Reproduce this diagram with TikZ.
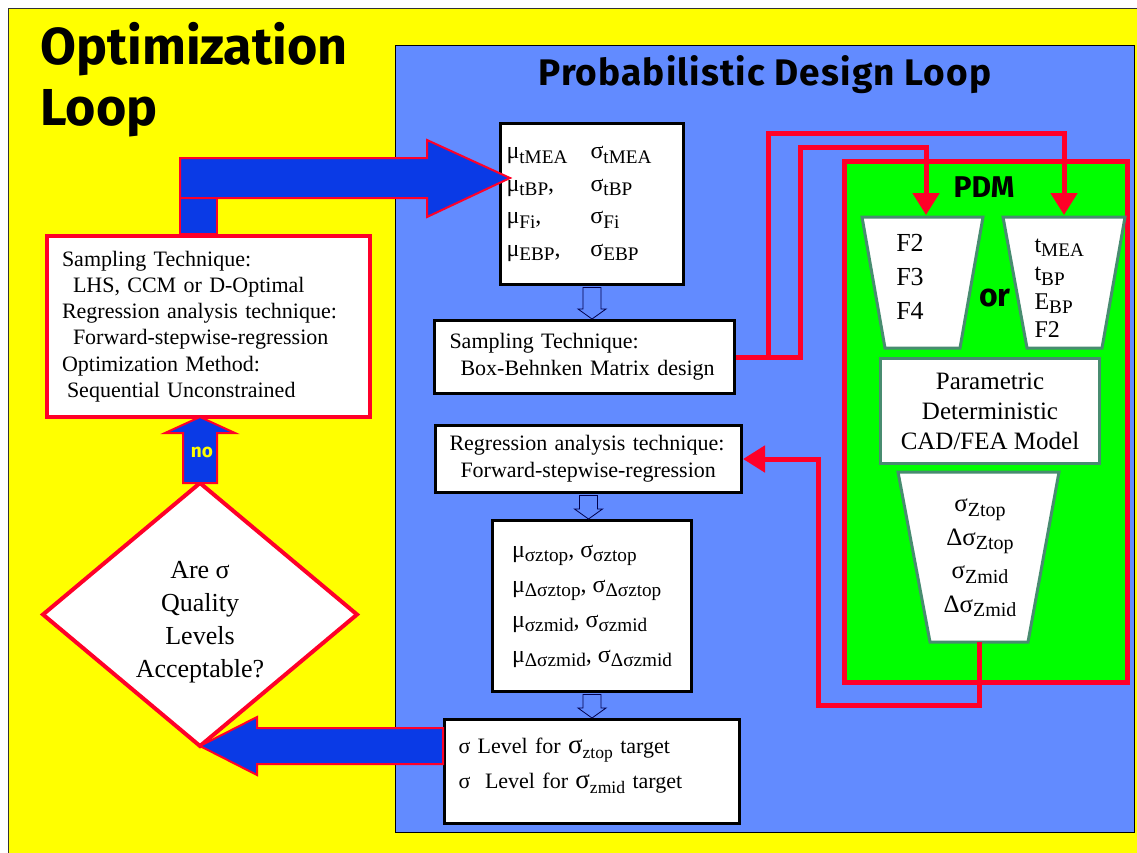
\documentclass[tikz,border=0pt]{standalone}
\usepackage{fontspec}
\usepackage{graphicx}
\setmainfont{Liberation Serif}
\newfontfamily\comic{Fira Sans}
\usetikzlibrary{shapes.geometric,arrows.meta,calc,positioning}

\definecolor{sunny}{RGB}{255,255,0}
\definecolor{sky}{RGB}{98,139,255}
\definecolor{royal}{RGB}{10,58,230}
\definecolor{alarm}{RGB}{255,0,40}
\definecolor{pdmgreen}{RGB}{0,255,0}
\definecolor{sage}{RGB}{72,140,112}

\newcommand{\dn}[1]{\raisebox{-0.42ex}{\scalebox{0.8}{#1}}}

\tikzset{
  box/.style={draw=black, line width=3pt, fill=white, anchor=north west, inner ysep=0pt, align=left, font=\fontsize{22}{27}\selectfont},
  redbox/.style={box, draw=alarm, line width=4pt},
  sagebox/.style={box, draw=sage, align=center},
  trap/.style={draw=sage, line width=3pt, fill=white, line join=miter},
  fat/.style={draw=alarm, line width=2pt, fill=royal, line join=miter},
  feed/.style={draw=alarm, line width=5pt, line join=miter, -{Triangle[width=26pt,length=22pt]}},
  hollow/.style={draw=black!70!blue, line width=0.8pt, fill=sky},
}

\begin{document}
\begin{tikzpicture}[x=1pt, y=-1pt]
\useasboundingbox (0,0) rectangle (1137,852);
\filldraw[fill=sunny, draw=black!80, line width=0.8pt] (8,8) rectangle (1145,860);
\filldraw[fill=sky, draw=black, line width=1pt] (395,45) rectangle (1134,832);

% titles
\node[anchor=north west, align=left, font=\comic\bfseries\fontsize{52}{61}\selectfont] (optitle) at (37,19) {Optimization\\Loop};
\node[font=\comic\bfseries\fontsize{37}{42}\selectfont\addfontfeature{LetterSpace=3}] (pdltitle) at (765,75) {Probabilistic Design Loop};

% PDM block
\node[draw=alarm, line width=5pt, fill=pdmgreen, anchor=north west, minimum width=283pt, minimum height=521pt] (pdm) at (842,159) {};
\node[font=\comic\bfseries\fontsize{30}{34}\selectfont] (pdmtitle) at (984,187) {PDM};

\draw[trap] (862,217) -- (983,217) -- (960,348) -- (885,348) -- cycle;
\draw[trap] (1003,217) -- (1125,217) -- (1102,348) -- (1027,348) -- cycle;
\draw[trap] (898,472) -- (1059,472) -- (1028,642) -- (930,642) -- cycle;
\coordinate (fin) at (926,215);
\coordinate (gin) at (1064,215);
\coordinate (zout) at (979,642);

\node[align=left, font=\fontsize{26}{34}\selectfont] (fset) at (910,277) {F2\\F3\\F4};
\node[anchor=west, align=left, font=\fontsize{24}{28.5}\selectfont] (gset) at (1031,288) {t\dn{MEA}\\t\dn{BP}\\E\dn{BP}\\F2};
\node[font=\comic\bfseries\fontsize{32}{36}\selectfont] (orword) at (995,298) {or};
\node[align=center, font=\fontsize{25}{33.5}\selectfont] (zset) at (980,558) {σ\dn{Ztop}\\Δσ\dn{Ztop}\\σ\dn{Zmid}\\Δσ\dn{Zmid}};
\node[sagebox, minimum width=219pt, minimum height=105pt, font=\fontsize{25}{30}\selectfont] (cad) at (879,357) {Parametric\\Deterministic\\CAD/FEA Model};

% probabilistic loop boxes
\node[box, minimum width=183pt, minimum height=161pt, text width=171pt, inner xsep=6pt, font=\fontsize{24}{32.5}\selectfont] (mustats) at (499,122)
  {\makebox[84pt][l]{μ\dn{tMEA}}σ\dn{tMEA}\\
   \makebox[84pt][l]{μ\dn{tBP},}σ\dn{tBP}\\
   \makebox[84pt][l]{μ\dn{Fi},}σ\dn{Fi}\\
   \makebox[84pt][l]{μ\dn{EBP},}σ\dn{EBP}};
\node[box, minimum width=300pt, minimum height=73pt, text width=270pt, inner xsep=15pt] (bbm) at (433,319)
  {Sampling Technique:\\\hspace*{11pt}Box-Behnken Matrix design};
\node[box, minimum width=306pt, minimum height=67pt, text width=278pt, inner xsep=14pt] (regr) at (434,424)
  {Regression analysis technique:\\\hspace*{11pt}Forward-stepwise-regression};
\node[box, minimum width=199pt, minimum height=171pt, font=\fontsize{24}{35}\selectfont] (resp) at (491,519)
  {μ\dn{σztop}, σ\dn{σztop}\\
   μ\dn{Δσztop}, σ\dn{Δσztop}\\
   μ\dn{σzmid}, σ\dn{σzmid}\\
   μ\dn{Δσzmid}, σ\dn{Δσzmid}};
\node[box, minimum width=295pt, minimum height=104pt, text width=267pt, inner xsep=14pt, font=\fontsize{22}{35}\selectfont] (levels) at (443,718)
  {σ Level for {\fontsize{27}{27}\selectfont σ}\dn{ztop} target\\
   σ \ Level for {\fontsize{27}{27}\selectfont σ}\dn{zmid} target\rule[-16pt]{0pt}{0pt}};

% optimization loop
\node[redbox, minimum width=323pt, minimum height=181pt, text width=293pt, inner xsep=15pt, font=\fontsize{22}{26.3}\selectfont] (optbox) at (45,234)
  {Sampling Technique:\\
   \hspace*{11pt}LHS, CCM or D-Optimal\\
   Regression analysis technique:\\
   \hspace*{11pt}Forward-stepwise-regression\\
   Optimization Method:\\
   \hspace*{5pt}Sequential Unconstrained};
\node[diamond, aspect=1.2, draw=alarm, line width=4pt, fill=white, minimum width=314pt, minimum height=263pt, inner sep=0pt, outer sep=0pt] (ask) at (200,614.5) {};
\node[align=center, font=\fontsize{26}{33}\selectfont] (asktext) at ($(ask)+(0,8)$) {Are σ\\Quality\\Levels\\Acceptable?};

% hollow arrows
\foreach \a/\b in {mustats/bbm, regr/resp, resp/levels}
  \draw[hollow] ($(\a.south)+(-9,1.5)$) -- ($(\a.south |- \b.north)+(-9,-10)$) -- ($(\a.south |- \b.north)+(-14,-10)$)
    -- (\a.south |- \b.north) -- ($(\a.south |- \b.north)+(14,-10)$) -- ($(\a.south |- \b.north)+(9,-10)$) -- ($(\a.south)+(9,1.5)$) -- cycle;

% red feeds
\draw[feed] (bbm.east) -| (768,133) -| (gin);
\draw[feed] (bbm.east) -| (800,147) -| (fin);
\draw[feed] (zout) |- (818,705) |- (regr.east);

% fat arrows
\draw[fat] ($(optbox.north west)+(135,0)$) rectangle +(37,-38);
\coordinate (intip) at ($(mustats.north west)+(11,56)$);
\draw[fat] (intip) -- +(-83,-38) -- +(-83,-20) -- +(-330,-20) -- +(-330,20) -- +(-83,20) -- +(-83,39) -- cycle;
\draw[fat] (ask.south) -- +(57,-29) -- +(57,-18) -- +(243,-18) -- +(243,18) -- +(57,18) -- +(57,29) -- cycle;
\draw[fat] ($(ask.north)+(-17,0)$) -- +(0,-50) -- +(-18,-50) -- +(17,-66) -- +(52,-50) -- +(34,-50) -- +(34,0) -- cycle;
\node[font=\comic\bfseries\fontsize{19}{22}\selectfont, text=sunny] (nolabel) at ($(ask.north)+(2,-31)$) {no};
\end{tikzpicture}
\end{document}
